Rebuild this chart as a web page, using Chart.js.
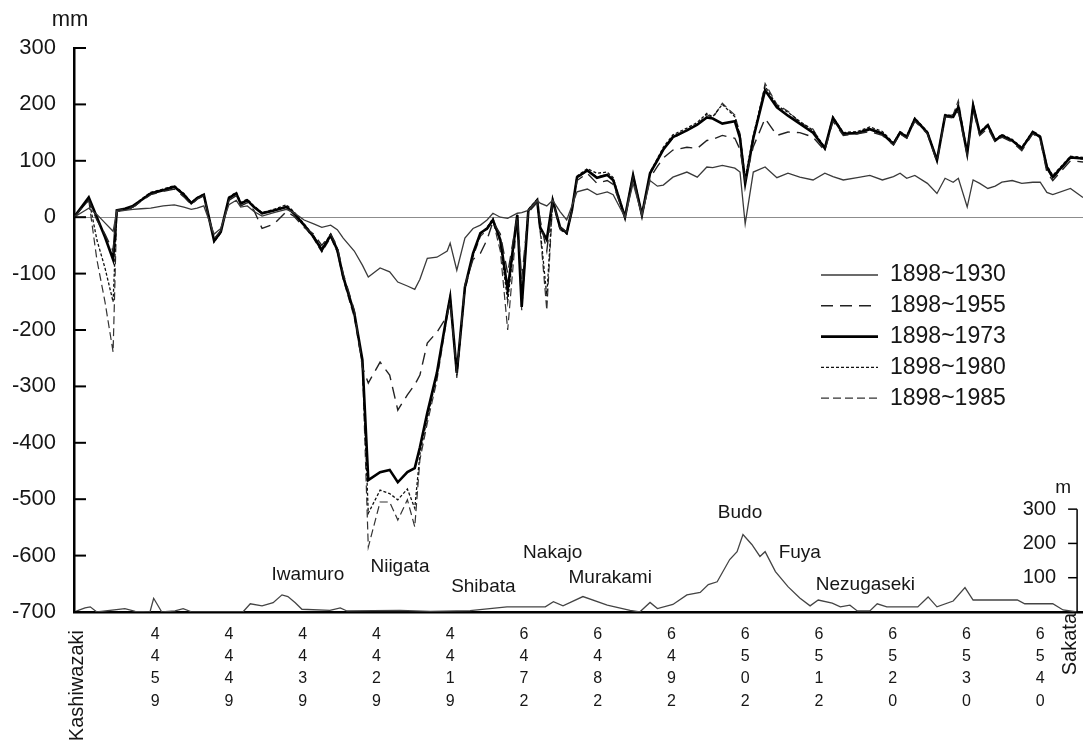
<!DOCTYPE html>
<html>
<head>
<meta charset="utf-8">
<script src="https://cdn.jsdelivr.net/npm/chart.js@4.4.1/dist/chart.umd.min.js"></script>
<style>
  html, body { margin: 0; padding: 0; background: #fff; }
  #wrap { width: 1083px; height: 743px; }
</style>
</head>
<body>
<div id="wrap"><canvas id="chart" width="1083" height="743"></canvas></div>
<script>
// distance along the route, in benchmark steps from Kashiwazaki
const dist = [
  0, 2.0, 3.1, 4.2, 5.3, 5.8, 6.9, 8.0, 9.1, 10.4,
  12.1, 13.6, 14.9, 15.9, 16.7, 17.6, 19.0, 19.9, 21.0, 22.0,
  22.6, 23.5, 24.4, 25.5, 27.1, 28.8, 29.8, 31.2, 32.5, 33.6,
  34.8, 35.7, 36.5, 38.0, 39.1, 39.9, 41.5, 42.8, 43.9, 45.2,
  46.2, 46.9, 47.9, 49.2, 50.6, 51.0, 51.9, 53.0, 54.1, 55.1,
  56.0, 56.8, 57.8, 58.8, 60.1, 60.7, 61.6, 62.8, 63.2, 64.1,
  64.9, 65.9, 66.8, 67.5, 68.2, 69.6, 70.9, 72.3, 73.1, 74.7,
  75.8, 77.0, 78.1, 79.1, 79.9, 81.2, 83.1, 84.5, 85.8, 86.6,
  87.9, 89.6, 90.3, 91.0, 92.1, 93.7, 95.3, 96.8, 98.4, 100.2,
  101.8, 102.9, 104.3, 106.2, 107.9, 109.6, 111.1, 112.0, 112.9, 114.0,
  115.7, 117.0, 118.1, 119.2, 119.9, 121.1, 121.9, 122.8, 123.9, 124.9,
  125.8, 127.2, 128.5, 130.0, 131.0, 131.9, 132.7, 135.1, 136.8
];

// vertical movement (mm) for each period
const s1930 = [
  0, 16, 5, -10, -25, 10, 12, 14, 15, 16,
  20, 22, 18, 14, 16, 20, -30, -20, 22, 30,
  18, 20, 10, 2, 8, 14, 8, -5, -12, -18,
  -14, -22, -37, -60, -85, -106, -90, -97, -115, -122,
  -128, -110, -73, -71, -60, -46, -94, -37, -20, -14,
  -5, 7, 0, -2, 7, 8, 12, 30, 25, 20,
  30, 10, -5, 20, 45, 50, 40, 45, 40, 0,
  60, 4, 65, 55, 57, 71, 80, 71, 89, 88,
  92, 87, 80, -12, 80, 89, 70, 78, 71, 66,
  78, 72, 66, 70, 74, 66, 72, 78, 69, 74,
  60, 42, 69, 62, 69, 18, 66, 60, 51, 55,
  62, 65, 60, 62, 62, 44, 40, 51, 35
];
const s1955 = [
  0, 30, -5, -30, -60, 12, 15, 18, 28, 40,
  46, 50, 36, 22, 32, 38, -38, -24, 30, 38,
  20, 26, 12, -20, -12, 10, 2, -18, -30, -50,
  -30, -52, -100, -165, -266, -294, -257, -280, -342, -315,
  -297, -280, -223, -204, -175, -150, -276, -120, -75, -64,
  -40, -8, -30, -100, 2, -110, 10, 28, -5, -60,
  28, -18, -26, 10, 65, 78, 60, 65, 58, 0,
  70, 2, 70, 90, 105, 119, 124, 122, 136, 138,
  145, 140, 120, 65, 125, 175, 145, 151, 150, 142,
  118, 170, 145, 148, 152, 145, 128, 148, 140, 170,
  148, 98, 178, 176, 188, 110, 190, 145, 158, 133,
  142, 133, 118, 148, 138, 80, 65, 100, 98
];
const s1973 = [
  0, 35, 0, -35, -75, 12, 15, 20, 30, 42,
  48, 54, 40, 25, 34, 40, -42, -26, 34, 42,
  24, 30, 18, 7, 12, 18, 7, -14, -35, -58,
  -32, -58, -106, -170, -253, -466, -452, -448, -470, -452,
  -445, -408, -347, -276, -170, -142, -276, -124, -64, -28,
  -20, -5, -40, -129, 4, -159, 12, 30, -18, -40,
  30, -18, -28, 12, 71, 83, 70, 75, 66, 0,
  74, 4, 78, 101, 120, 142, 154, 164, 177, 175,
  166, 170, 140, 60, 140, 225, 195, 180, 166, 150,
  122, 176, 148, 149, 156, 148, 130, 150, 142, 174,
  150, 101, 180, 178, 195, 113, 198, 149, 163, 136,
  145, 136, 122, 151, 142, 89, 71, 106, 104
];
const s1980 = [
  0, 33, -40, -90, -150, 10, 14, 18, 32, 44,
  50, 56, 42, 26, 35, 41, -44, -28, 36, 44,
  26, 32, 20, 8, 14, 22, 10, -12, -33, -55,
  -30, -56, -104, -172, -256, -525, -484, -490, -501, -482,
  -516, -420, -355, -282, -168, -140, -280, -126, -66, -30,
  -18, -2, -45, -150, 6, -150, 14, 32, -20, -140,
  32, -20, -30, 14, 73, 86, 78, 80, 70, 2,
  76, 6, 80, 104, 124, 146, 158, 168, 184, 178,
  200, 178, 145, 70, 145, 232, 198, 186, 170, 154,
  124, 178, 150, 152, 160, 152, 132, 152, 144, 176,
  152, 102, 182, 180, 200, 115, 200, 151, 165, 138,
  147, 138, 124, 153, 144, 92, 74, 108, 106
];
const s1985 = [
  0, 30, -75, -150, -239, 10, 13, 16, 30, 42,
  49, 55, 40, 24, 34, 40, -40, -26, 34, 42,
  24, 30, 18, 6, 12, 18, 6, -16, -38, -62,
  -36, -62, -110, -178, -262, -585, -505, -505, -537, -501,
  -549, -430, -365, -290, -175, -148, -285, -130, -70, -34,
  -22, -6, -60, -200, 2, -165, 8, 26, -25, -165,
  28, -22, -30, 10, 70, 82, 72, 76, 64, -2,
  72, 2, 76, 100, 120, 140, 154, 164, 182, 176,
  202, 181, 148, 65, 138, 237, 200, 188, 168, 156,
  120, 177, 149, 150, 158, 149, 131, 151, 142, 175,
  151, 100, 181, 182, 207, 112, 202, 149, 163, 137,
  145, 136, 121, 152, 142, 86, 68, 105, 103
];

// ground elevation (m) along the route
const elevDist = [
  0, 1.5, 2.2, 3.1, 6.9, 8.3, 10.3, 10.8, 11.9, 13.7,
  14.8, 16.0, 22.9, 23.9, 25.5, 27.0, 28.2, 29.0, 30.0, 30.9,
  34.7, 36.1, 37.0, 44.2, 48.3, 53.7, 58.7, 63.9, 65.0, 66.3,
  69.0, 72.3, 75.4, 76.7, 78.1, 79.1, 81.2, 83.1, 84.9, 86.0,
  87.2, 88.9, 89.9, 90.7, 91.9, 93.0, 93.7, 95.1, 96.8, 98.4,
  99.8, 100.9, 102.8, 103.9, 105.2, 106.2, 107.9, 108.9, 110.2, 114.4,
  115.8, 117.0, 119.2, 120.8, 121.9, 127.9, 128.9, 132.7, 134.1, 136.0
];
const elevM = [
  0, 12, 15, 0, 10, 2, 0, 40, 0, 3,
  10, 0, 0, 24, 18, 27, 50, 45, 27, 8,
  5, 12, 3, 5, 2, 4, 15, 15, 30, 18,
  45, 20, 5, 0, 28, 10, 22, 50, 57, 80,
  88, 153, 176, 226, 197, 162, 176, 118, 74, 41,
  18, 35, 26, 15, 20, 3, 3, 24, 15, 15,
  44, 15, 32, 71, 35, 35, 24, 24, 6, 0
];

const periods = ['1898~1930', '1898~1955', '1898~1973', '1898~1980', '1898~1985'];
const benchDist = [11, 21, 31, 41, 51, 61, 71, 81, 91, 101, 111, 121, 131];
const benchNo = ['4459', '4449', '4439', '4429', '4419', '6472', '6482', '6492', '6502', '6512', '6520', '6530', '6540'];
const elevTicks = [100, 200, 300];

const places = ['Iwamuro', 'Niigata', 'Shibata', 'Nakajo', 'Murakami', 'Budo', 'Fuya', 'Nezugaseki'];
const placeDist = [31.7, 44.2, 55.5, 64.9, 72.7, 90.3, 98.4, 107.3];
const placeElev = [108, 131, 73, 172, 99, 289, 172, 79];
const ends = ['Kashiwazaki', 'Sakata'];
const endDist = [0, 136];

const FONT = '"Liberation Sans", Arial, Helvetica, sans-serif';
const INK = '#161616';

const styles = [
  { borderColor: '#3a3a3a', borderWidth: 1.3, borderDash: [] },
  { borderColor: '#222', borderWidth: 1.4, borderDash: [12, 7] },
  { borderColor: '#000', borderWidth: 2.6, borderDash: [] },
  { borderColor: '#111', borderWidth: 1.3, borderDash: [3, 2] },
  { borderColor: '#333', borderWidth: 1.2, borderDash: [8, 4] }
];
const seriesVals = [s1930, s1955, s1973, s1980, s1985];

const datasets = periods.map((name, k) => Object.assign({
  label: name,
  data: dist.map((d, i) => ({ x: d, y: seriesVals[k][i] })),
  yAxisID: 'y',
  pointRadius: 0,
  tension: 0,
  fill: false
}, styles[k]));

datasets.push({
  label: 'elevation',
  data: elevDist.map((d, i) => ({ x: d, y: elevM[i] })),
  yAxisID: 'yElev',
  borderColor: '#444',
  borderWidth: 1.3,
  pointRadius: 0,
  tension: 0,
  fill: false
});

// extra drawing: inner ticks, units, elevation axis, place names, legend
const decor = {
  id: 'decor',
  afterDraw(chart) {
    const ctx = chart.ctx;
    const xS = chart.scales.x, yS = chart.scales.y, eS = chart.scales.yElev;
    const area = chart.chartArea;
    ctx.save();

    // inner tick marks on the mm axis
    ctx.strokeStyle = '#000';
    ctx.lineWidth = 2;
    yS.ticks.forEach(t => {
      const py = yS.getPixelForValue(t.value);
      ctx.beginPath();
      ctx.moveTo(area.left, py);
      ctx.lineTo(area.left + 12, py);
      ctx.stroke();
    });

    ctx.fillStyle = INK;
    ctx.font = '22px ' + FONT;
    ctx.textAlign = 'center';
    ctx.textBaseline = 'middle';
    ctx.fillText('mm', area.left - 4, 20);

    // elevation axis at Sakata
    const ax = xS.getPixelForValue(endDist[1]);
    ctx.lineWidth = 1.5;
    ctx.beginPath();
    ctx.moveTo(ax, eS.getPixelForValue(0));
    ctx.lineTo(ax, eS.getPixelForValue(300));
    ctx.stroke();
    ctx.font = '20px ' + FONT;
    ctx.textAlign = 'right';
    elevTicks.forEach(v => {
      const py = eS.getPixelForValue(v);
      ctx.beginPath();
      ctx.moveTo(ax - 9, py);
      ctx.lineTo(ax, py);
      ctx.stroke();
      ctx.fillText(String(v), ax - 21, py);
    });
    ctx.textAlign = 'center';
    ctx.font = '19px ' + FONT;
    ctx.fillText('m', ax - 14, eS.getPixelForValue(300) - 21);

    // place names
    ctx.font = '19px ' + FONT;
    places.forEach((p, i) => {
      ctx.fillText(p, xS.getPixelForValue(placeDist[i]), eS.getPixelForValue(placeElev[i]));
    });

    // end names, rotated
    ctx.font = '20px ' + FONT;
    ctx.textAlign = 'right';
    [[0, 3, 18], [1, -7, 1]].forEach(([i, dx, dy]) => {
      ctx.save();
      ctx.translate(xS.getPixelForValue(endDist[i]) + dx, area.bottom + dy);
      ctx.rotate(-Math.PI / 2);
      ctx.fillText(ends[i], 0, 0);
      ctx.restore();
    });

    // legend
    ctx.font = '23px ' + FONT;
    ctx.textAlign = 'left';
    periods.forEach((name, k) => {
      const py = 275 + k * 30.8;
      const st = styles[k];
      ctx.strokeStyle = st.borderColor;
      ctx.lineWidth = st.borderWidth;
      ctx.setLineDash(st.borderDash);
      ctx.beginPath();
      ctx.moveTo(821, py);
      ctx.lineTo(878, py);
      ctx.stroke();
      ctx.setLineDash([]);
      ctx.fillText(name, 890, py);
    });

    ctx.restore();
  }
};

new Chart(document.getElementById('chart'), {
  type: 'line',
  data: { datasets: datasets },
  options: {
    responsive: false,
    animation: false,
    layout: { padding: { top: 48, right: 0, bottom: 0, left: 0 } },
    plugins: { legend: { display: false }, tooltip: { enabled: false } },
    scales: {
      x: {
        type: 'linear',
        min: 0,
        max: 136.8,
        afterBuildTicks: s => { s.ticks = benchDist.map(v => ({ value: v })); },
        afterFit: s => { s.height = 131; },
        grid: { display: false },
        border: { display: true, color: '#000', width: 2.5 },
        ticks: {
          autoSkip: false,
          maxRotation: 0,
          padding: 3,
          color: INK,
          font: { family: FONT, size: 16, lineHeight: 1.4 },
          callback: v => {
            const i = benchDist.indexOf(v);
            return i < 0 ? '' : benchNo[i].split('');
          }
        }
      },
      y: {
        min: -700,
        max: 300,
        afterFit: s => { s.width = 74; },
        grid: {
          drawTicks: false,
          lineWidth: 1,
          color: c => (c.tick && c.tick.value === 0) ? '#8c8c8c' : 'rgba(0,0,0,0)'
        },
        border: { color: '#000', width: 2.5 },
        ticks: {
          stepSize: 100,
          padding: 18,
          color: INK,
          font: { family: FONT, size: 22 },
          callback: v => String(v)
        }
      },
      yElev: { display: false, min: 0, max: 1645 }
    }
  },
  plugins: [decor]
});
</script>
</body>
</html>
